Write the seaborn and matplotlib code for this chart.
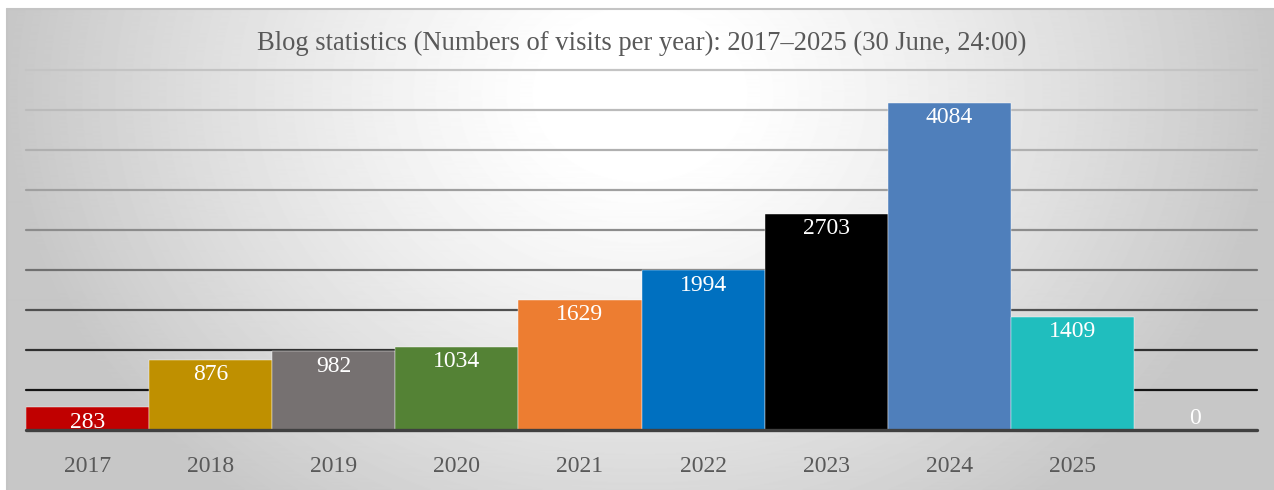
import numpy as np
import pandas as pd
import matplotlib
matplotlib.use('Agg')
import matplotlib.pyplot as plt
import seaborn as sns

# chart data
years = ['2017', '2018', '2019', '2020', '2021', '2022', '2023', '2024', '2025', ' ']
visits = [283, 876, 982, 1034, 1629, 1994, 2703, 4084, 1409, 0]
bar_colors = ['#C00000', '#BF9000', '#767171', '#548235', '#ED7D31',
              '#0070C0', '#000000', '#4F7FBB', '#20BEBE', '#A5A5A5']
grid_values = [500, 1000, 1500, 2000, 2500, 3000, 3500, 4000, 4500]
grid_colors = ['#151515', '#303030', '#505050', '#707070', '#8c8c8c',
               '#a0a0a0', '#b0b0b0', '#bbbbbb', '#c4c4c4']
title = 'Blog statistics (Numbers of visits per year): 2017\u20132025 (30 June, 24:00)'

df = pd.DataFrame({'year': years, 'visits': visits})

sns.set_theme(style='white')
plt.rcParams['font.family'] = ['Liberation Serif', 'DejaVu Serif']

W, H = 1274, 490
fig = plt.figure(figsize=(W / 100, H / 100), dpi=100)
fig.patch.set_facecolor('white')

# radial gradient background of the chart area (white near top centre)
bg = fig.add_axes([7 / W, 0, 1 - 7 / W, 1 - 9 / H])
yy, xx = np.mgrid[0:481, 0:1267]
r = np.sqrt(((xx - 633) / 633) ** 2 + ((yy - 85) / 520) ** 2)
shade = np.clip(1.02 - 0.24 * r ** 1.3, 0.78, 1)
bg.imshow(shade, cmap='gray', vmin=0, vmax=1, aspect='auto',
          extent=[0, 1, 0, 1], origin='upper')
bg.set_xlim(0, 1)
bg.set_ylim(0, 1)
bg.axis('off')
bg.plot([0, 1], [1, 1], color='#c4c4c4', lw=1.5, clip_on=False)
bg.plot([0, 0], [0, 1], color='#c4c4c4', lw=1.5, clip_on=False)

ax = fig.add_axes([26 / W, 60 / H, 1231 / W, 360 / H])
ax.set_facecolor('none')

for v, c in zip(grid_values, grid_colors):
    ax.axhline(v, color=c, lw=1.6, zorder=0, clip_on=False)

sns.barplot(data=df, x='year', y='visits', hue='year', palette=bar_colors,
            width=1.0, dodge=False, legend=False, ax=ax, saturation=1,
            edgecolor='white', linewidth=0.3, zorder=2)

ax.axhline(0, color='#404040', lw=2.4, zorder=3, clip_on=False)

for i, v in enumerate(visits):
    if v > 0:
        ax.annotate(str(v), (i, v), xytext=(0, -3), textcoords='offset points',
                    ha='center', va='top', color='white', fontsize=17, zorder=4)
    else:
        ax.annotate(str(v), (i, v), xytext=(0, 1), textcoords='offset points',
                    ha='center', va='bottom', color='white', fontsize=17, zorder=4)

ax.set_xlim(-0.5, len(years) - 0.5)
ax.set_ylim(0, 4500)
ax.set_xlabel('')
ax.set_ylabel('')
ax.set_yticks([])
ax.tick_params(axis='x', length=0, pad=19, labelsize=17, labelcolor='#595959')
for s in ax.spines.values():
    s.set_visible(False)

fig.text(642 / W, 1 - 43 / H, title, ha='center', va='center',
         fontsize=19.2, color='#595959')

fig.savefig('out.png', dpi=100)
